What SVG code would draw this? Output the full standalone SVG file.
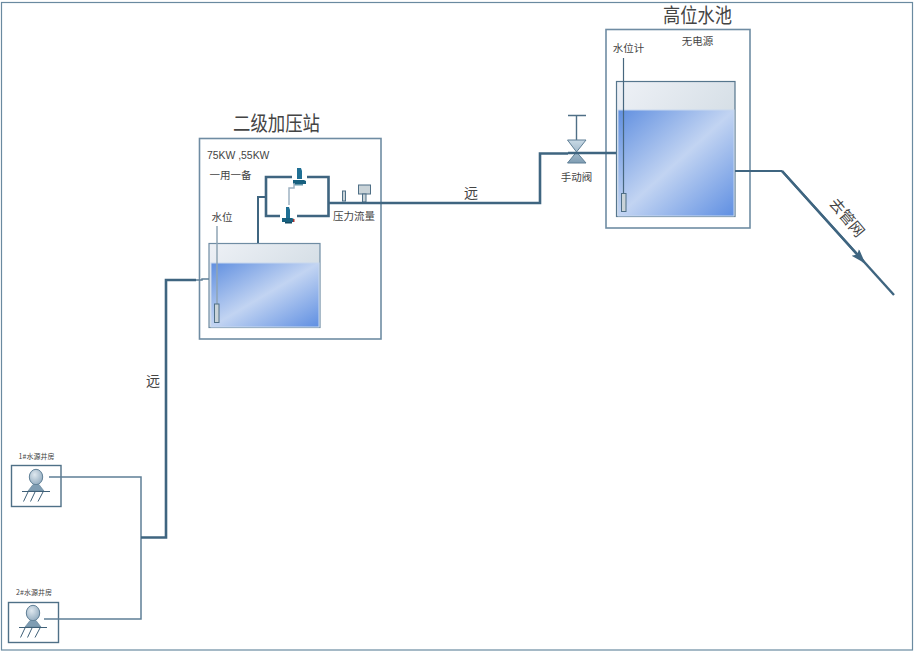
<svg xmlns="http://www.w3.org/2000/svg" width="915" height="653" viewBox="0 0 915 653">
<style>
text{font-family:"Noto Sans CJK SC","Liberation Serif",serif;fill:#444}
.latin{font-family:"Liberation Sans",sans-serif}
.box{fill:#fff;stroke:#6f8ca3;stroke-width:1.6}
.pipe{fill:none;stroke:#3f6580;stroke-width:2.6}
.thin{fill:none;stroke:#5f7f96;stroke-width:1.5}
.well{fill:#fff;stroke:#4f7087;stroke-width:1.4}
.gauge{fill:#c9d3d8;stroke:#4f6f86;stroke-width:1}
.water{fill:url(#water);stroke:#c8d8ee;stroke-width:1}
</style>
<defs>
<linearGradient id="air" x1="0" y1="0" x2="1" y2="1"><stop offset="0" stop-color="#eef1f6"/><stop offset="1" stop-color="#c6d3dc"/></linearGradient>
<linearGradient id="water" x1="0" y1="0" x2="1" y2="1"><stop offset="0" stop-color="#608fe0"/><stop offset=".5" stop-color="#c2d4f2"/><stop offset="1" stop-color="#5f8fe2"/></linearGradient>
<radialGradient id="head" cx=".4" cy=".35" r=".75"><stop offset="0" stop-color="#dfe8ef"/><stop offset="1" stop-color="#8ba6bb"/></radialGradient>
<linearGradient id="valve" x1="0" y1="0" x2="0" y2="1"><stop offset="0" stop-color="#c9dae6"/><stop offset="1" stop-color="#7f9db3"/></linearGradient>
<marker id="arrow" markerWidth="15" markerHeight="12" refX="13" refY="5" orient="auto" markerUnits="userSpaceOnUse"><path d="M0 0L15 5L0 10L3 5Z" fill="#3f6580"/></marker>
<g id="wellShape">
<ellipse cx="0" cy="0" rx="6.700" ry="7.700" fill="url(#head)" stroke="#5f7f96"/>
<path d="M-8 14L-3 7.500H3L8 14Z" fill="#7f9db3" stroke="#5f7f96" stroke-width=".6"/>
<path d="M-14 14.500H14M-8 15L-12.500 24.500M-1 15L-5.500 24.500M7 15L2 24.500" fill="none" stroke="#3f6078" stroke-width="1"/>
</g>
</defs>
<rect width="915" height="653" fill="#fff"/>
<rect id="frame" x="1.500" y="2.500" width="911" height="647.500" fill="none" stroke="#6a8aa0" stroke-width="1.200"/>

<g id="station">
<rect class="box" x="199.500" y="138.500" width="181.500" height="200.500"/>
<text x="233" y="131" font-size="20" textLength="87" lengthAdjust="spacingAndGlyphs">二级加压站</text>
<text class="latin" x="207" y="159" font-size="10.400">75KW ,55KW</text>
<text x="230.500" y="179" font-size="10.500" text-anchor="middle">一用一备</text>
<text x="222" y="221" font-size="10.500" text-anchor="middle">水位</text>
<text x="354" y="220" font-size="10.500" text-anchor="middle">压力流量</text>
</g>
<g id="station-tank">
<rect x="209" y="243.500" width="111" height="84" fill="url(#air)" stroke="#6f8ca3" stroke-width="1.200"/>
<rect class="water" x="211" y="263" width="108" height="64"/>
<path d="M217 226V304" fill="none" stroke="#8fa5b5" stroke-width="1.500"/>
<rect class="gauge" x="214.500" y="304" width="4.500" height="18.500"/>
</g>
<g id="pump-1" transform="translate(299 178)">
<path d="M-2 -10h4l1 3v8h-5z" fill="#1f6f94"/>
<path d="M-6 2h11l2 1v3h-13z" fill="#17607f"/>
<rect x="-5" y="6" width="9" height="1.500" fill="#5f93a8"/>
</g>
<g id="pump-2" transform="translate(288 217)">
<path d="M-2 -10h3l1 3v8h-4z" fill="#1f6f94"/>
<path d="M-6 1h10l2 1v3h-12z" fill="#17607f"/>
<rect x="-3" y="5" width="7" height="1.500" fill="#124a63"/>
<rect x="5" y="2" width="1.500" height="3" fill="#a33"/>
</g>
<g id="pressure-gauge"><rect class="gauge" x="342.500" y="191" width="3" height="10"/></g>
<g id="flow-meter">
<rect class="gauge" x="358.500" y="185" width="12" height="9"/>
<rect class="gauge" x="362.500" y="194" width="3.500" height="8"/>
</g>

<g id="high-tank">
<rect class="box" x="606" y="29.500" width="144" height="198.500"/>
<text x="663" y="23" font-size="20" textLength="69" lengthAdjust="spacingAndGlyphs">高位水池</text>
<text x="697.500" y="45" font-size="10.500" text-anchor="middle">无电源</text>
<text x="628.500" y="52" font-size="10.500" text-anchor="middle">水位计</text>
<rect x="616.500" y="81.500" width="118.500" height="135" fill="url(#air)" stroke="#56768d" stroke-width="1.200"/>
<rect class="water" x="618" y="110" width="116" height="106"/>
<path d="M623.500 58V193" fill="none" stroke="#47677e" stroke-width="1.200"/>
<rect class="gauge" x="621.500" y="193.500" width="4.500" height="18"/>
</g>

<g id="manual-valve">
<path d="M568 115.500H586M576.500 115.500V140" fill="none" stroke="#4f6f86" stroke-width="1.400"/>
<path d="M567.500 140H586L576.500 152ZM567.500 163H586L576.500 152Z" fill="url(#valve)" stroke="#5f7f96" stroke-width="1"/>
<text x="576.500" y="181" font-size="10.500" text-anchor="middle">手动阀</text>
</g>

<g id="well-1">
<rect class="well" x="11.500" y="465.500" width="49.500" height="41"/>
<use href="#wellShape" x="36" y="477"/>
<text x="36.500" y="458.500" font-size="7" text-anchor="middle">1#水源井房</text>
</g>
<g id="well-2">
<rect class="well" x="8.500" y="602.500" width="50" height="40"/>
<use href="#wellShape" x="33" y="613"/>
<text x="34" y="595" font-size="7" text-anchor="middle">2#水源井房</text>
</g>

<g id="connectors">
<path class="thin" d="M49 477H141V619H44"/>
<path class="pipe" d="M141 537.500H166V280H196"/>
<path class="thin" d="M196 280H202V279H209"/>
<path d="M258 243V197H266" fill="none" stroke="#3f6580" stroke-width="2"/>
<path class="pipe" d="M292 177H266V216H280M297 216H328.500V177H307"/>
<path d="M289 205V188H294V183" fill="none" stroke="#9fb3c2" stroke-width="1.500"/>
<path class="pipe" d="M328 203H540V153.500H568"/>
<path class="pipe" d="M568 153H616"/>
<path d="M735 171H782" fill="none" stroke="#3f6580" stroke-width="2"/>
<path d="M782 171L894 295" fill="none" stroke="#3f6580" stroke-width="2.400"/>
<path d="M782 171L864 262" fill="none" stroke="#3f6580" stroke-width="2.400" marker-end="url(#arrow)"/>
</g>
<g id="labels">
<text x="471" y="198" font-size="14" text-anchor="middle">远</text>
<text x="153" y="386" font-size="14" text-anchor="middle">远</text>
<text transform="translate(843 221) rotate(50)" font-size="15" text-anchor="middle">去管网</text>
</g>
</svg>
